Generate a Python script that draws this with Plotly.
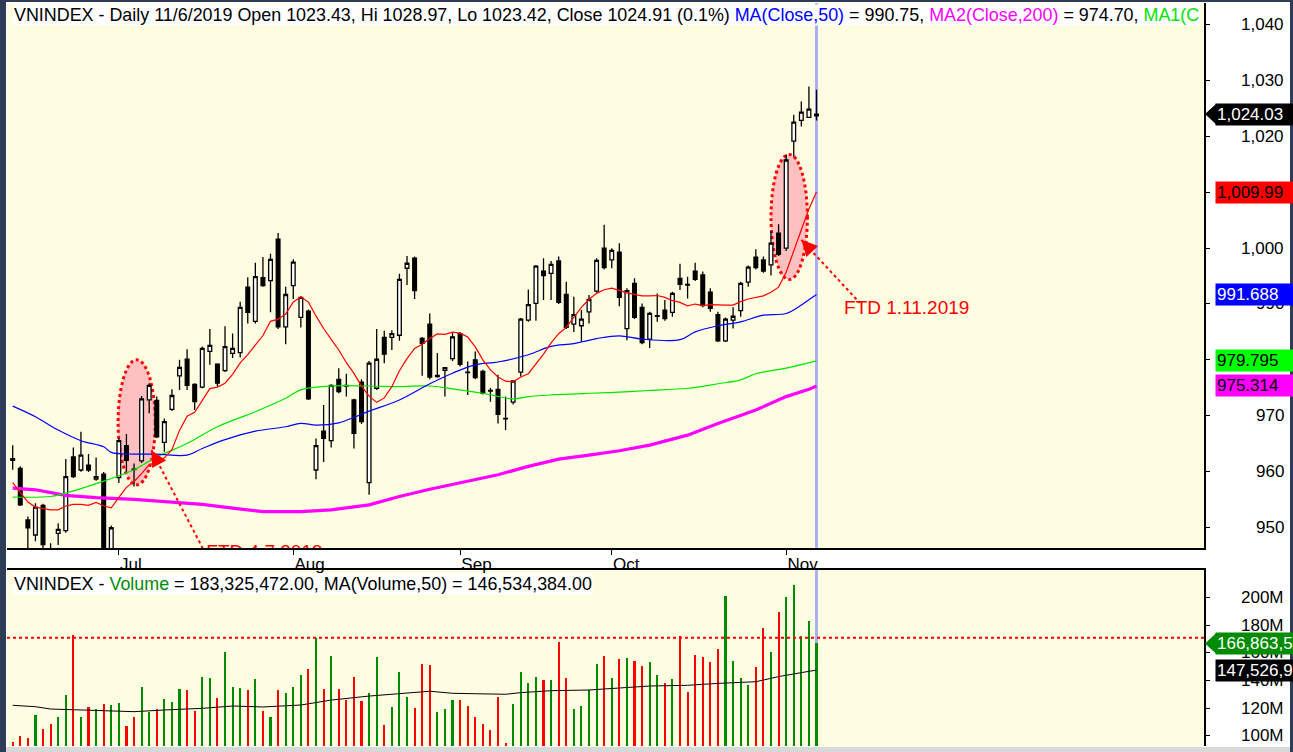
import plotly.graph_objects as go
import pandas as pd

FONT = "Liberation Sans, Arial, sans-serif"

# daily VNINDEX sessions, mid-June .. 7 Nov 2019 (x = session number)
opens = [962.3, 960.55, 951.3, 948.6, 953.9, 945.0, 948.9, 949.4, 962.6, 960.25,
         961.1, 958.6, 959.5, 945.0, 958.9, 964.6, 960.4, 961.9, 972.8, 972.7,
         965.2, 971.1, 977.1, 980.1, 975.6, 975.1, 981.5, 979.2, 978.05, 981.16,
         981.3, 993.0, 986.9, 994.7, 994.2, 1001.6, 985.9, 993.3, 987.6, 988.7,
         960.25, 967.2, 965.5, 976.5, 975.4, 972.8, 976.0, 958.0, 974.9, 984.0,
         984.0, 984.4, 996.4, 998.2, 983.85, 986.4, 977.0, 978.1, 980.2, 984.7,
         977.8, 980.0, 977.9, 974.5, 974.7, 969.5, 972.4, 977.8, 987.1, 990.1,
         995.9, 995.5, 997.7, 991.7, 986.4, 986.1, 988.6, 992.3, 1000.0, 997.9,
         999.3, 985.6, 993.7, 989.4, 983.7, 987.8, 988.9, 988.5, 994.6, 993.5,
         995.9, 995.2, 992.1, 988.1, 983.4, 987.1, 988.8, 993.9, 998.4, 997.9,
         997.0, 1002.7, 1000.0, 1019.2, 1022.9, 1023.43, 1023.7]
highs = [964.7, 960.9, 951.9, 954.3, 954.2, 947.1, 950.7, 962.2, 964.3, 967.1,
         963.1, 962.5, 959.9, 950.3, 966.0, 966.7, 961.4, 973.5, 975.8, 973.4,
         969.5, 974.7, 980.0, 981.9, 975.8, 982.4, 985.5, 979.4, 986.0, 984.7,
         990.4, 994.8, 997.4, 998.4, 999.0, 1002.7, 993.1, 998.0, 991.4, 989.0,
         965.9, 971.9, 975.6, 978.5, 977.5, 973.0, 976.5, 979.8, 985.5, 985.2,
         985.3, 995.4, 998.6, 998.5, 984.1, 988.3, 981.2, 978.7, 985.0, 985.0,
         979.7, 981.5, 978.2, 975.0, 977.3, 973.4, 976.3, 987.5, 992.6, 997.0,
         998.2, 997.7, 998.5, 994.0, 991.3, 988.9, 991.6, 998.2, 1004.2, 1000.0,
         1000.9, 992.8, 994.6, 990.1, 988.6, 991.9, 990.7, 992.2, 997.2, 994.9,
         997.4, 995.8, 992.8, 988.6, 987.6, 989.4, 994.0, 996.9, 999.8, 998.5,
         1003.1, 1004.3, 1016.8, 1023.9, 1026.3, 1028.97, 1028.4]
lows = [960.3, 953.8, 944.0, 947.5, 945.5, 942.0, 946.8, 949.0, 958.8, 959.95,
        959.9, 958.3, 942.0, 944.0, 957.9, 959.95, 957.3, 961.5, 970.4, 966.0,
        963.5, 970.8, 974.6, 974.6, 971.0, 974.9, 979.1, 975.2, 977.8, 980.3,
        980.4, 986.5, 986.5, 993.1, 988.5, 985.5, 982.8, 990.9, 985.8, 972.8,
        958.6, 961.7, 964.3, 974.0, 973.4, 964.1, 968.5, 955.8, 974.6, 979.4,
        981.75, 983.4, 993.4, 990.9, 977.15, 976.5, 976.8, 973.4, 979.8, 978.8,
        973.7, 976.5, 973.8, 972.5, 968.6, 967.4, 972.0, 977.0, 986.8, 987.0,
        990.7, 990.7, 990.0, 985.5, 985.0, 983.3, 986.5, 992.0, 996.2, 996.4,
        989.6, 983.5, 987.3, 982.8, 982.1, 986.8, 987.0, 987.7, 992.5, 991.0,
        994.1, 989.4, 988.6, 983.2, 983.2, 985.6, 987.7, 993.1, 996.2, 995.6,
        995.1, 998.6, 999.5, 1016.4, 1021.8, 1023.42, 1022.9]
closes = [962.0, 954.0, 949.9, 953.6, 946.9, 944.0, 949.6, 959.05, 959.05, 962.9,
          960.25, 959.05, 944.0, 949.9, 965.5, 962.0, 960.3, 973.0, 975.4, 966.2,
          968.9, 973.6, 978.65, 975.4, 972.5, 982.05, 982.6, 975.8, 982.35, 982.05,
          989.4, 988.5, 994.9, 993.3, 998.0, 985.9, 991.7, 997.5, 991.2, 973.0,
          964.6, 965.9, 975.4, 974.3, 975.3, 966.8, 968.9, 979.4, 980.1, 981.0,
          984.7, 994.4, 997.3, 992.4, 982.95, 976.9, 977.2, 978.6, 984.1, 979.2,
          977.7, 976.8, 974.0, 974.4, 970.2, 969.4, 976.2, 987.3, 989.9, 996.8,
          995.1, 997.1, 990.3, 985.8, 988.1, 987.3, 990.8, 997.8, 996.5, 999.6,
          991.2, 992.4, 987.6, 983.1, 988.3, 987.9, 987.4, 991.9, 993.5, 993.4,
          994.4, 989.7, 989.2, 983.4, 987.3, 987.8, 993.7, 996.6, 996.5, 995.9,
          1000.9, 998.9, 1015.8, 1022.6, 1024.4, 1024.91, 1024.03]
volume_m = [95.2, 99.8, 98.1, 115.0, 104.6, 108.5, 113.5, 129.5, 172.7, 113.5,
            120.8, 119.1, 122.7, 122.2, 123.4, 107.0, 113.5, 135.3, 116.9, 119.1,
            126.6, 124.4, 133.8, 133.1, 117.9, 142.5, 141.8, 127.3, 160.6, 135.0,
            134.5, 133.1, 141.1, 117.9, 113.5, 133.1, 130.9, 135.3, 144.0, 148.3,
            170.8, 133.8, 157.7, 133.8, 125.8, 142.5, 125.4, 130.9, 157.0, 107.7,
            120.8, 146.1, 128.0, 120.0, 151.9, 151.2, 116.9, 119.3, 125.8, 125.8,
            121.5, 113.8, 108.5, 104.1, 128.3, 94.7, 122.9, 146.1, 138.2, 142.5,
            140.3, 140.3, 167.9, 141.8, 119.3, 121.5, 133.1, 151.9, 157.7, 141.8,
            155.6, 156.3, 154.1, 150.5, 153.4, 144.0, 138.2, 141.1, 172.2, 131.6,
            158.5, 157.0, 153.4, 162.8, 201.2, 154.4, 141.8, 136.7, 149.8, 178.0,
            160.6, 189.6, 200.5, 209.2, 172.2, 183.33, 166.86]

month_idx = [14, 37, 59, 79, 102]
month_lbl = ["Jul", "Aug", "Sep", "Oct", "Nov"]
price_ticks = [950, 960, 970, 980, 990, 1000, 1010, 1020, 1030, 1040]
vol_ticks_m = [100, 120, 140, 160, 180, 200]

# MA10 needs 10 closes, first 9 values
ma10_head = [958.0, 956.2, 954.5, 953.6, 953.4, 953.1, 953.1, 953.8, 954.1]

# longer averages at sample sessions
ma50_x = [0, 3, 6, 9, 12, 13, 16, 19, 23, 25, 28, 32, 36, 38, 40, 43, 45, 47, 51,
          55, 58, 61, 64, 68, 71, 74, 77, 80, 83, 88, 90, 93, 96, 99, 102, 104, 105, 106]
ma50_v = [971.7, 969.8, 967.4, 965.5, 964.4, 963.4, 963.1, 963.1, 962.9, 964.1, 965.7,
          967.2, 968.0, 968.6, 968.3, 968.7, 969.7, 970.8, 972.8, 975.7, 977.6, 979.1,
          979.6, 980.9, 982.4, 982.9, 983.8, 984.3, 983.7, 983.6, 985.0, 986.1, 986.8,
          988.0, 988.3, 989.8, 990.75, 991.69]
ma1_x = [0, 5, 7, 11, 16, 19, 23, 27, 32, 36, 38, 42, 47, 51, 55, 58, 62, 66, 68,
         71, 76, 80, 84, 89, 93, 96, 98, 102, 106]
ma1_v = [955.4, 955.5, 956.1, 957.8, 960.3, 962.6, 965.0, 968.0, 970.7, 973.1, 974.6,
         975.3, 975.3, 975.2, 975.3, 974.8, 974.0, 973.0, 973.4, 973.7, 974.0, 974.2,
         974.5, 974.9, 975.7, 976.4, 977.5, 978.5, 979.8]
ma200_x = [0, 3, 7, 11, 16, 20, 25, 29, 33, 38, 42, 47, 51, 55, 60, 64, 68, 72, 76,
           80, 84, 89, 93, 98, 102, 105, 106]
ma200_v = [957.0, 956.7, 955.7, 955.3, 955.0, 954.6, 954.1, 953.4, 952.8, 952.8, 953.1,
           954.0, 955.5, 956.8, 958.2, 959.4, 960.9, 962.2, 962.9, 963.7, 964.7, 966.5,
           968.6, 971.0, 973.4, 974.70, 975.31]
volma_x = [0, 3, 5, 9, 12, 16, 20, 25, 29, 33, 38, 40, 42, 47, 51, 55, 58, 65, 67,
           71, 76, 80, 84, 89, 93, 98, 101, 104, 105, 106]
volma_m = [122.0, 121.0, 119.3, 118.6, 118.6, 117.4, 118.6, 119.8, 121.5, 120.8, 122.2,
           123.9, 125.8, 128.7, 130.2, 132.2, 130.7, 130.0, 131.2, 132.6, 133.1, 134.3,
           136.0, 136.5, 137.9, 139.1, 142.8, 145.7, 146.53, 147.53]

n = len(closes)
days = list(range(n))
ma10 = pd.Series(closes).rolling(10).mean().tolist()
ma10[:9] = ma10_head
vol_colors = ["#008c00" if c >= o else "#ff0000" for o, c in zip(opens, closes)]

W, H = 1293, 752
L, R, T, B = 7, 89, 3, 6
PW = W - L - R
PH = H - T - B


def px_x(px):
    return (px - L) / PW


def px_y(py):
    return (H - B - py) / PH


fig = go.Figure()

# price panel
fig.add_trace(go.Scatter(x=ma200_x, y=ma200_v, mode="lines", line=dict(color="#ff00ff", width=3.2),
                         hoverinfo="skip"))
fig.add_trace(go.Scatter(x=ma1_x, y=ma1_v, mode="lines", line=dict(color="#00e600", width=1.2, shape="spline"),
                         hoverinfo="skip"))
fig.add_trace(go.Scatter(x=ma50_x, y=ma50_v, mode="lines", line=dict(color="#0000ff", width=1.2, shape="spline"),
                         hoverinfo="skip"))
fig.add_trace(go.Scatter(x=days, y=ma10, mode="lines", line=dict(color="#ff0000", width=1.2),
                         hoverinfo="skip"))
fig.add_trace(go.Candlestick(
    x=days, open=opens, high=highs, low=lows, close=closes,
    increasing=dict(fillcolor="white", line=dict(color="black", width=1.3)),
    decreasing=dict(fillcolor="black", line=dict(color="black", width=1.3)),
    whiskerwidth=0, xaxis="x", yaxis="y",
))

# FTD arrows and notes
fig.add_trace(go.Scatter(x=[18.3, 25.3], y=[963.8, 945.6], mode="lines",
                         line=dict(color="red", width=2, dash="dot"), hoverinfo="skip"))
fig.add_trace(go.Scatter(x=[104.0, 111.7], y=[1001.5, 990.2], mode="lines",
                         line=dict(color="red", width=2, dash="dot"), hoverinfo="skip"))
fig.add_trace(go.Scatter(x=[33.2, 117.9], y=[945.3, 989.05], mode="text",
                         text=["FTD 4.7.2019", "FTD 1.11.2019"], textposition="middle center",
                         textfont=dict(family=FONT, size=19, color="red"), cliponaxis=True,
                         hoverinfo="skip"))

# volume panel
fig.add_trace(go.Bar(x=days, y=[v * 1e6 for v in volume_m], marker=dict(color=vol_colors, line_width=0),
                     width=0.28, xaxis="x2", yaxis="y2", hoverinfo="skip"))
fig.add_trace(go.Scatter(x=volma_x, y=[v * 1e6 for v in volma_m], mode="lines",
                         line=dict(color="black", width=1), xaxis="x2", yaxis="y2", hoverinfo="skip"))

shapes = [
    # highlighted sessions
    dict(type="circle", xref="x", yref="y", x0=13.9, x1=18.8, y0=957.6, y1=980.0,
         fillcolor="#ffc0c0", line=dict(color="red", width=3, dash="dot"), layer="below"),
    dict(type="circle", xref="x", yref="y", x0=100.0, x1=104.8, y0=994.4, y1=1016.8,
         fillcolor="#ffc0c0", line=dict(color="red", width=3, dash="dot"), layer="below"),
    # cursor line
    dict(type="line", xref="x", yref="y domain", x0=106, x1=106, y0=0, y1=1,
         line=dict(color="#aab0f2", width=3), layer="below"),
    dict(type="line", xref="x2", yref="y2 domain", x0=106, x1=106, y0=0, y1=1,
         line=dict(color="#aab0f2", width=3), layer="below"),
    # volume reference line
    dict(type="line", xref="x2 domain", yref="y2", x0=0, x1=1, y0=171e6, y1=171e6,
         line=dict(color="red", width=2, dash="dot")),
    # window frame
    dict(type="rect", xref="paper", yref="paper", x0=px_x(0), x1=px_x(6), y0=px_y(H), y1=px_y(0),
         fillcolor="#2f3c58", line_width=0),
    dict(type="rect", xref="paper", yref="paper", x0=px_x(0), x1=px_x(W), y0=px_y(2), y1=px_y(0),
         fillcolor="#2f3c58", line_width=0),
    dict(type="rect", xref="paper", yref="paper", x0=px_x(1290), x1=px_x(W), y0=px_y(H), y1=px_y(0),
         fillcolor="#2f3c58", line_width=0),
    dict(type="rect", xref="paper", yref="paper", x0=px_x(6), x1=px_x(1290), y0=px_y(H), y1=px_y(747),
         fillcolor="#d8d8d8", line_width=0),
]

annotations = []
# right axis labels
for v in price_ticks:
    annotations.append(dict(xref="paper", yref="y", x=px_x(1286), y=v, xanchor="right", yanchor="middle",
                            text=f"{v:,}", showarrow=False, font=dict(family=FONT, size=17, color="black")))
for v in vol_ticks_m:
    annotations.append(dict(xref="paper", yref="y2", x=px_x(1286), y=v * 1e6, xanchor="right",
                            yanchor="middle", text=f"{v}M", showarrow=False,
                            font=dict(family=FONT, size=17, color="black")))

# last-value tags
tags = [
    ("y", 1024.03, "1,024.03", "black", "white", True, 1.8),
    ("y", 1009.99, "1,009.99", "#ff0000", "black", False, 1.8),
    ("y", 991.688, "991.688", "#0000ff", "white", False, 1.8),
    ("y", 979.795, "979.795", "#00ff00", "black", False, 1.8),
    ("y", 975.314, "975.314", "#ff00ff", "black", False, 1.8),
    ("y2", 166.86e6, "166,863,5", "#008c00", "white", True, 7.3e6),
    ("y2", 147.53e6, "147,526,9", "black", "white", False, 7.3e6),
]
for yref, val, txt, bg, fg, pointer, half in tags:
    annotations.append(dict(xref="paper", yref=yref, x=px_x(1215), y=val, xanchor="left", yanchor="middle",
                            text=txt, showarrow=False, bgcolor=bg, borderpad=1, width=76, align="left",
                            font=dict(family=FONT, size=17, color=fg)))
    if pointer:
        shapes.append(dict(type="path", xref="paper", yref=yref,
                           path=f"M {px_x(1205)},{val} L {px_x(1216)},{val + half} "
                                f"L {px_x(1216)},{val - half} Z",
                           fillcolor=bg, line_width=0))

# arrow heads
annotations.append(dict(xref="x", yref="y", x=18.3, y=963.8, axref="x", ayref="y", ax=19.1, ay=961.8,
                        text="", showarrow=True, arrowhead=2, arrowsize=1.6, arrowwidth=2, arrowcolor="red"))
annotations.append(dict(xref="x", yref="y", x=104.0, y=1001.5, axref="x", ayref="y", ax=105.1, ay=999.9,
                        text="", showarrow=True, arrowhead=2, arrowsize=1.6, arrowwidth=2, arrowcolor="red"))

# panel captions
main_title = ("VNINDEX - Daily 11/6/2019 Open 1023.43, Hi 1028.97, Lo 1023.42, Close 1024.91 (0.1%) "
              "<span style='color:#0000ff'>MA(Close,50)</span> = 990.75, "
              "<span style='color:#ff00ff'>MA2(Close,200)</span> = 974.70, "
              "<span style='color:#00e600'>MA1(C</span>")
annotations.append(dict(xref="paper", yref="paper", x=px_x(13), y=px_y(4), xanchor="left", yanchor="top",
                        text=main_title, showarrow=False, bgcolor="white", borderpad=0,
                        font=dict(family=FONT, size=17.9, color="black")))
vol_title = ("VNINDEX - <span style='color:#008c00'>Volume</span> = 183,325,472.00, "
             "MA(Volume,50) = 146,534,384.00")
annotations.append(dict(xref="paper", yref="paper", x=px_x(13), y=px_y(573), xanchor="left", yanchor="top",
                        text=vol_title, showarrow=False, bgcolor="white", borderpad=0,
                        font=dict(family=FONT, size=17.9, color="black")))

fig.update_layout(
    width=W, height=H,
    margin=dict(l=L, r=R, t=T, b=B),
    paper_bgcolor="white",
    plot_bgcolor="#fffde1",
    showlegend=False,
    bargap=0,
    xaxis=dict(domain=[0, 1], range=[-0.75, 157.1], anchor="y",
               tickvals=month_idx, ticktext=month_lbl, ticks="outside", ticklen=5, tickcolor="black",
               ticklabelposition="outside right",
               tickfont=dict(family=FONT, size=17, color="black"),
               showline=True, linecolor="black", linewidth=1.5, showgrid=False, zeroline=False,
               rangeslider=dict(visible=False)),
    xaxis2=dict(domain=[0, 1], matches="x", anchor="y2", side="top", showline=True, linecolor="black",
                linewidth=1.5, showticklabels=False, ticks="", showgrid=False, zeroline=False),
    yaxis=dict(domain=[px_y(548), 1], range=[946.27, 1043.94], side="right",
               tickvals=price_ticks, ticks="outside", ticklen=4, tickcolor="black", showticklabels=False,
               showline=True, linecolor="black", linewidth=1.5, showgrid=False, zeroline=False),
    yaxis2=dict(domain=[0, px_y(570)], range=[92.5e6, 220.1e6], side="right", anchor="x2",
                tickvals=[v * 1e6 for v in vol_ticks_m], ticks="outside", ticklen=4, tickcolor="black",
                showticklabels=False, showline=True, linecolor="black", linewidth=1.5,
                showgrid=False, zeroline=False),
    shapes=shapes,
    annotations=annotations,
)

# the page body has a default 8px margin; drop it so the figure fills the window
fig.write_html("out.html", config={"displayModeBar": False},
               post_script="document.body.style.margin='0';")
